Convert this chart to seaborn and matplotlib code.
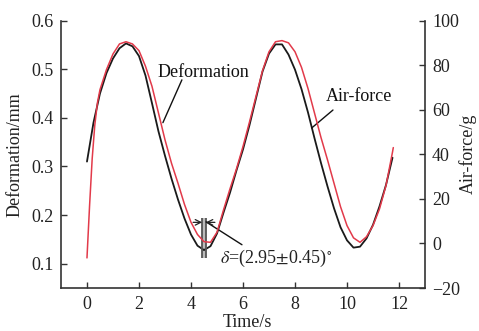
import numpy as np
import pandas as pd
import matplotlib
matplotlib.use('Agg')
import matplotlib.pyplot as plt
import seaborn as sns

# values
time_def = [0.0, 0.25, 0.5, 0.75, 1.0, 1.25, 1.5, 1.75, 2.0, 2.25, 2.5, 2.75,
            3.0, 3.25, 3.5, 3.75, 4.0, 4.25, 4.5, 4.75, 5.0, 5.25, 5.5, 5.75,
            6.0, 6.25, 6.5, 6.75, 7.0, 7.25, 7.5, 7.75, 8.0, 8.25, 8.5, 8.75,
            9.0, 9.25, 9.5, 9.75, 10.0, 10.25, 10.5, 10.75, 11.0, 11.25, 11.5, 11.75]
deformation = [0.310, 0.390, 0.450, 0.492, 0.522, 0.543, 0.553, 0.547, 0.527, 0.487, 0.430, 0.372,
               0.322, 0.275, 0.232, 0.193, 0.160, 0.137, 0.128, 0.136, 0.162, 0.205, 0.246, 0.292,
               0.335, 0.385, 0.440, 0.495, 0.532, 0.551, 0.551, 0.530, 0.499, 0.459, 0.411, 0.358,
               0.307, 0.259, 0.214, 0.175, 0.148, 0.133, 0.135, 0.152, 0.180, 0.218, 0.262, 0.318]

time_air = [0.0, 0.1, 0.2, 0.3, 0.4, 0.5, 0.75, 1.0, 1.25, 1.5, 1.75, 2.0, 2.25, 2.5, 2.75,
            3.0, 3.25, 3.5, 3.75, 4.0, 4.25, 4.5, 4.75, 5.0, 5.25, 5.5, 5.75,
            6.0, 6.25, 6.5, 6.75, 7.0, 7.25, 7.5, 7.75, 8.0, 8.25, 8.5, 8.75,
            9.0, 9.25, 9.5, 9.75, 10.0, 10.25, 10.5, 10.75, 11.0, 11.25, 11.5, 11.75, 11.78]
air_force = [-6.5, 17.0, 38.0, 53.0, 63.0, 69.0, 78.0, 85.0, 89.5, 90.5, 89.5, 86.5, 79.5, 70.5, 58.5,
             46.5, 36.0, 27.0, 17.5, 9.5, 4.0, 0.8, 0.5, 5.0, 15.0, 24.5, 33.5,
             43.5, 54.5, 66.0, 77.5, 86.0, 90.5, 91.0, 90.0, 86.0, 79.0, 69.5, 58.5,
             47.5, 37.5, 27.0, 16.5, 8.0, 2.5, 0.5, 3.0, 8.0, 15.5, 26.0, 41.0, 43.0]

x_ticks = [0, 2, 4, 6, 8, 10, 12]
left_ticks = [0.1, 0.2, 0.3, 0.4, 0.5, 0.6]
right_ticks = [-20, 0, 20, 40, 60, 80, 100]

df_def = pd.DataFrame({'Time': time_def, 'Deformation': deformation})
df_air = pd.DataFrame({'Time': time_air, 'Air-force': air_force})

sns.set_style('ticks')
plt.rcParams['font.family'] = ['Liberation Serif', 'DejaVu Serif']
plt.rcParams['mathtext.fontset'] = 'stix'

fig = plt.figure(figsize=(4.79, 3.31), dpi=100)
ax = fig.add_axes([0.1273, 0.1299, 0.76, 0.808])
ax2 = ax.twinx()

sns.lineplot(data=df_def, x='Time', y='Deformation', ax=ax, color='#1a1a1a', lw=1.3)
sns.lineplot(data=df_air, x='Time', y='Air-force', ax=ax2, color='#e23a4a', lw=1.1)

ax.set_xlim(-1, 13)
ax.set_ylim(0.05, 0.6)
ax2.set_ylim(-20, 100)
ax.set_xticks(x_ticks)
ax.set_yticks(left_ticks)
ax2.set_yticks(right_ticks)
ax.set_yticklabels([f'{v:.1f}' for v in left_ticks])
ax2.set_yticklabels([str(v).replace('-', '\u2212') for v in right_ticks])

spine_c = '#333333'
for a in (ax, ax2):
    a.spines['top'].set_visible(False)
    for s in a.spines.values():
        s.set_color(spine_c)
        s.set_linewidth(1.2)
ax.spines['right'].set_visible(False)
ax2.spines['left'].set_visible(False)
ax2.spines['bottom'].set_visible(False)

ax.tick_params(axis='x', direction='in', length=4, width=1, colors=spine_c,
               labelsize=13, labelcolor='#222222', pad=6)
ax.tick_params(axis='y', direction='in', length=4, width=1, colors=spine_c,
               labelsize=13, labelcolor='#222222', pad=5)
ax2.tick_params(axis='y', direction='in', length=4, width=1, colors=spine_c,
                labelsize=13, labelcolor='#222222', pad=5)

ax.set_xlabel('Time/s', fontsize=13, color='#222222')
ax.xaxis.set_label_coords(0.511, -0.098)
ax.set_ylabel('Deformation/mm', fontsize=13, color='#222222', va='center')
ax.yaxis.set_label_coords(-0.126, 0.5)
ax2.set_ylabel('Air-force/g', fontsize=13, color='#222222', va='center')
ax2.yaxis.set_label_coords(1.118, 0.5)

# curve labels with leader lines
ax.text(4.48, 0.494, 'Deformation', fontsize=13, ha='center', va='center', color='#111111')
ax.plot([3.65, 2.92], [0.478, 0.39], color='#111111', lw=1.0)
ax.text(10.46, 0.443, 'Air-force', fontsize=13, ha='center', va='center', color='#111111')
ax.plot([9.46, 8.64], [0.416, 0.379], color='#111111', lw=1.0)

# phase lag marker
ax.vlines([4.435, 4.565], 0.112, 0.194, color='#555555', lw=1.3)
ax.fill_betweenx([0.112, 0.194], 4.435, 4.565, color='#bbbbbb', lw=0)
ax.annotate('', xy=(4.43, 0.185), xytext=(4.08, 0.185),
            arrowprops=dict(arrowstyle='->', color='#222222', lw=0.9, shrinkA=0, shrinkB=0))
ax.annotate('', xy=(4.57, 0.185), xytext=(4.92, 0.185),
            arrowprops=dict(arrowstyle='->', color='#222222', lw=0.9, shrinkA=0, shrinkB=0))
ax.plot([4.58, 5.96], [0.186, 0.139], color='#111111', lw=1.0)
ax.text(5.12, 0.110, r'$\delta$=(2.95$\pm$0.45)$^{\circ}$', fontsize=13,
        ha='left', va='center', color='#222222')

fig.savefig('out.png', dpi=100, facecolor='white')
